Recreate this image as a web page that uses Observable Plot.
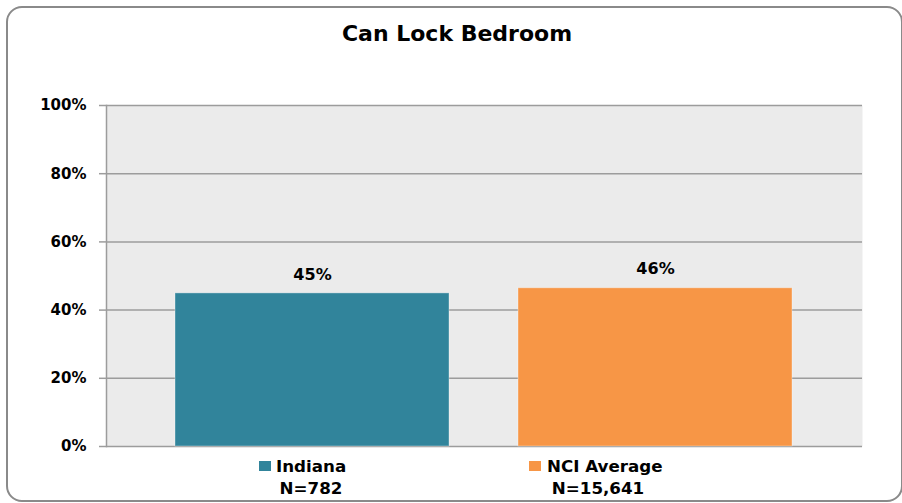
<!DOCTYPE html>
<html><head><meta charset="utf-8">
<script src="https://cdn.jsdelivr.net/npm/d3@7"></script>
<script src="https://cdn.jsdelivr.net/npm/@observablehq/plot@0.6"></script>
<style>
body{margin:0;background:#fff;font-family:"DejaVu Sans",Verdana,sans-serif;}
#wrap{position:relative;width:902px;height:503px;overflow:hidden;}
#border{position:absolute;left:6px;top:6px;width:893px;height:492px;border:2px solid #8a8a8a;border-radius:16px;}
#title{position:absolute;left:0;width:914px;top:21px;text-align:center;font-weight:bold;font-size:22px;color:#000;}
#chart{position:absolute;left:0;top:0;}
.leg{position:absolute;font-weight:bold;font-size:16.7px;color:#000;white-space:nowrap;line-height:1;}
.sw{position:absolute;width:12px;height:10px;}
</style></head>
<body>
<div id="wrap">
<div id="border"></div>
<div id="chart"></div>
<div id="title"></div>
<div id="legend"></div>
</div>
<script>
const title = "Can Lock Bedroom";
const categories = ["Indiana", "NCI Average"];
const values = [0.449, 0.464];
const labels = ["45%", "46%"];
const counts = ["N=782", "N=15,641"];
const colors = ["#31849b", "#f79646"];
const yTicks = [0, 0.2, 0.4, 0.6, 0.8, 1.0];

const data = categories.map((c, i) => ({cat: c, value: values[i], label: labels[i]}));

document.getElementById("title").textContent = title;

const plot = Plot.plot({
  width: 902,
  height: 461,
  marginTop: 105,
  marginBottom: 15,
  marginLeft: 106,
  marginRight: 40,
  style: {fontFamily: "DejaVu Sans, Verdana, sans-serif", background: "transparent", overflow: "visible"},
  x: {domain: categories, padding: 0.2, axis: null},
  y: {domain: [0, 1], axis: null},
  color: {domain: categories, range: colors},
  marks: [
    Plot.frame({fill: "#ebebeb", stroke: null}),
    Plot.gridY(yTicks, {stroke: "#9c9c9c", strokeOpacity: 1, strokeWidth: 1.5}),
    Plot.barY(data, {x: "cat", y: "value", fill: "cat", stroke: "#ffffff", strokeOpacity: 0.35, strokeWidth: 1}),
    Plot.text(data, {x: "cat", y: "value", text: "label", dy: -19, fontWeight: "bold", fontSize: 16, fill: "#000"}),
    Plot.axisY(yTicks, {tickFormat: d => Math.round(d * 100) + "%", tickSize: 7, tickPadding: 13, stroke: "#9c9c9c", strokeWidth: 1.5, fontSize: 15, fontWeight: "bold", fill: "#000", label: null}),
    Plot.frame({anchor: "left", stroke: "#9c9c9c", strokeWidth: 1.5})
  ]
});
document.getElementById("chart").appendChild(plot);

// legend
const leg = document.getElementById("legend");
const legendPos = [{sw: 259, txt: 276, n: 311}, {sw: 529, txt: 547, n: 598}];
categories.forEach((c, i) => {
  const p = legendPos[i];
  const sw = document.createElement("div");
  sw.className = "sw"; sw.style.left = p.sw + "px"; sw.style.top = "461px"; sw.style.background = colors[i];
  leg.appendChild(sw);
  const t = document.createElement("div");
  t.className = "leg"; t.style.left = p.txt + "px"; t.style.top = "458px"; t.textContent = c;
  leg.appendChild(t);
  const n = document.createElement("div");
  n.className = "leg"; n.style.left = (p.n - 60) + "px"; n.style.width = "120px"; n.style.textAlign = "center"; n.style.top = "480px"; n.textContent = counts[i];
  leg.appendChild(n);
});
</script>
</body></html>
